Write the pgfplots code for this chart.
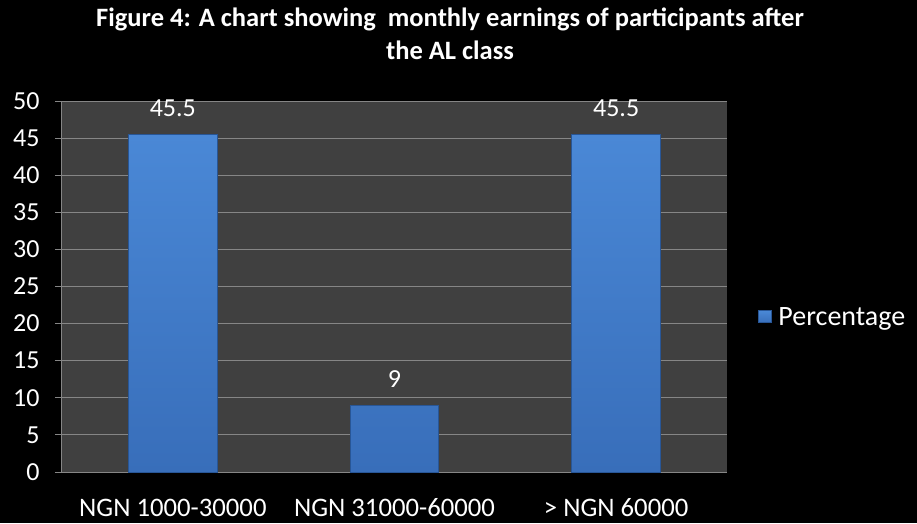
\documentclass[border=0pt]{standalone}
\usepackage{pgfplots}
\pgfplotsset{compat=1.18}
\usepackage{fontspec}
\setmainfont{Carlito}

\definecolor{plotbg}{RGB}{64,64,64}
\definecolor{gridgray}{RGB}{134,134,134}
\definecolor{barblue}{RGB}{66,126,204}
\definecolor{bartop}{RGB}{74,136,214}
\definecolor{barbot}{RGB}{56,110,186}
\definecolor{bardark}{RGB}{40,86,150}

\begin{document}
\begin{tikzpicture}
\fill[black, use as bounding box] (0,0) rectangle (917pt,523pt);
\begin{axis}[
    at={(62pt,51pt)}, anchor=south west,
    scale only axis,
    width=665pt, height=371pt,
    xmin=-0.5, xmax=2.5,
    ymin=0, ymax=50,
    ytick={0,5,...,50},
    xtick={0,1,2},
    xticklabels={NGN 1000-30000, NGN 31000-60000, > NGN 60000},
    xtick style={draw=none},
    extra x ticks={-0.5,0.5,1.5,2.5},
    extra x tick labels={},
    extra x tick style={major tick length=8pt, tick align=outside, grid=none,
        tick style={draw=gridgray, line width=1pt}},
    ytick style={draw=gridgray, line width=1pt},
    tick align=outside,
    major tick length=7pt,
    axis x line*=bottom,
    axis y line*=left,
    axis line style={draw=gridgray, line width=1pt, -},
    axis background/.style={fill=plotbg},
    ymajorgrids,
    major grid style={draw=gridgray, line width=1pt},
    /pgf/number format/assume math mode=true,
    ticklabel style={text=white},
    yticklabel style={font=\fontsize{26}{30}\selectfont, xshift=-12pt},
    xticklabel style={font=\fontsize{26.7}{30}\selectfont, anchor=base, yshift=-37pt},
    ybar,
    bar width=0.4,
    nodes near coords,
    nodes near coords style={font=\fontsize{26}{30}\selectfont, text=white, yshift=14pt},
    legend style={at={(1.047,0.418)}, anchor=west, fill=black, draw=none,
        text=white, font=\fontsize{28}{32}\selectfont, inner sep=0pt},
    legend image code/.code={\fill[barblue, draw=bardark] (0pt,-6pt) rectangle (13pt,6pt);},
]
\addplot[top color=bartop, bottom color=barbot, draw=bardark, line width=1pt] coordinates {(0,45.5) (1,9) (2,45.5)};
\addlegendentry{\hspace{4pt}Percentage}
\end{axis}
\node[font=\bfseries\fontsize{26.5}{30}\selectfont, text=white, anchor=base] at (450pt,496pt)
    {Figure 4: A chart showing\ \ monthly earnings of participants after};
\node[font=\bfseries\fontsize{26.5}{30}\selectfont, text=white, anchor=base] at (450pt,463pt)
    {the AL class};
\end{tikzpicture}
\end{document}
